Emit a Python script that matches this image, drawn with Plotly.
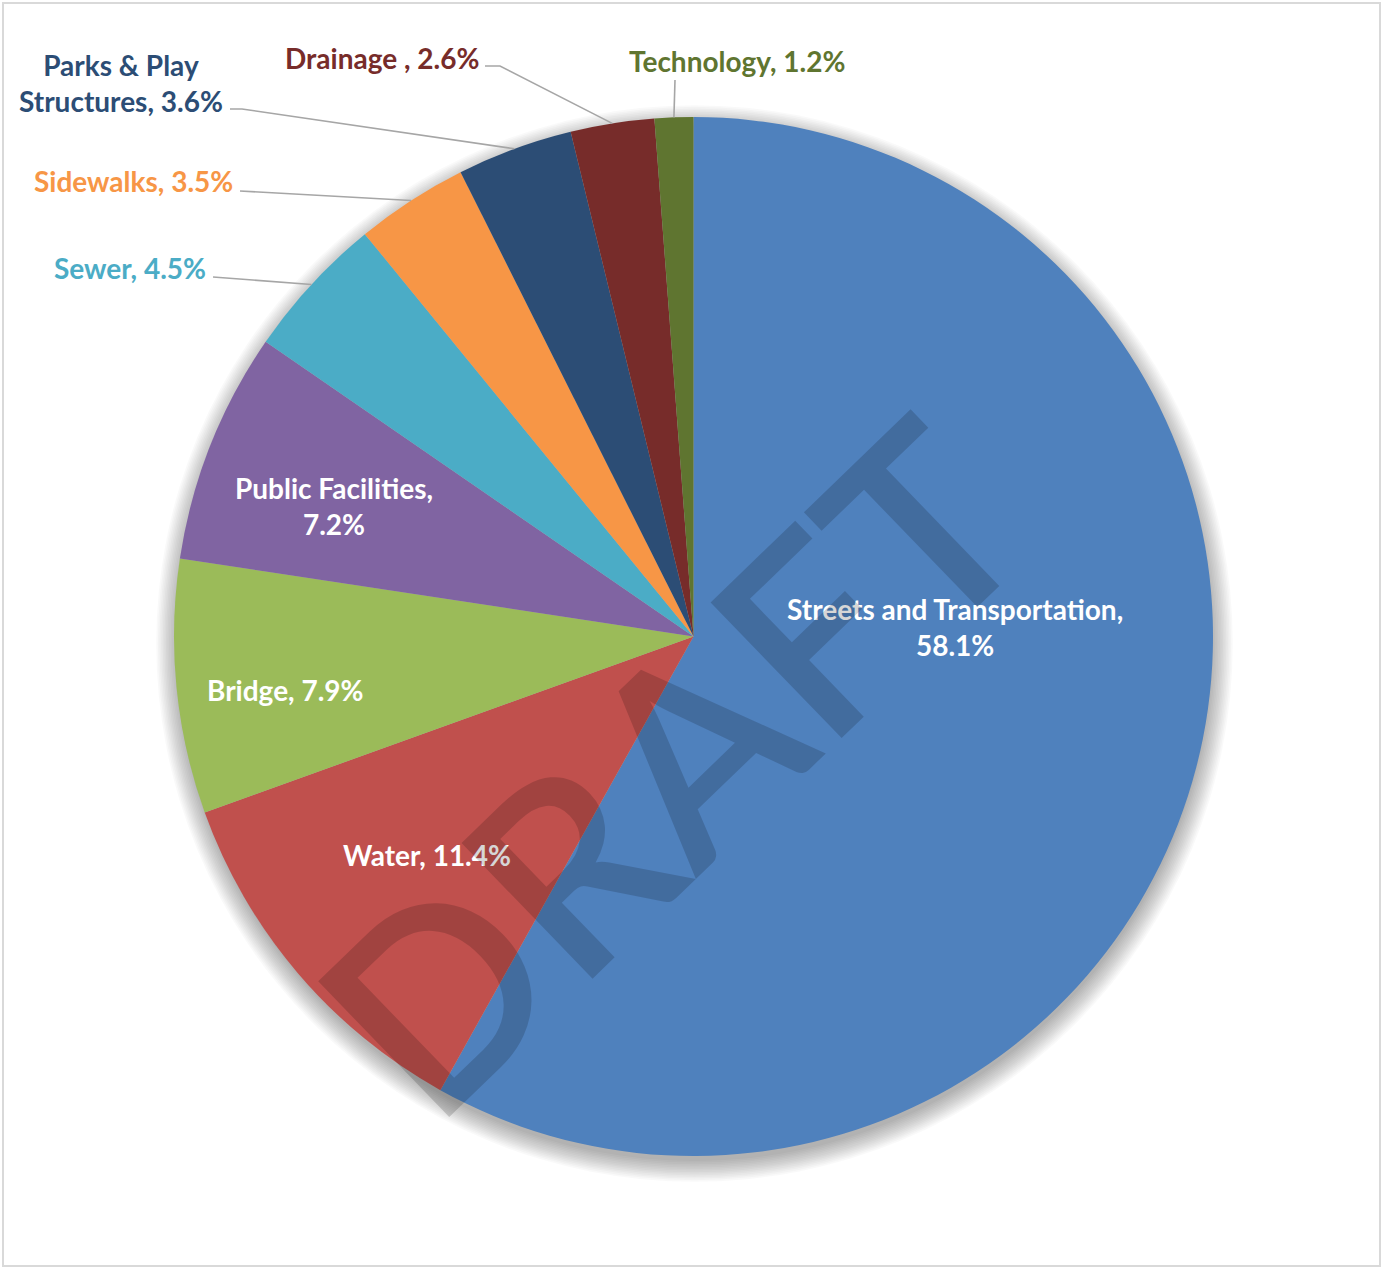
import numpy as np
import plotly.graph_objects as go

# ---------------- data ----------------
categories = ["Streets and Transportation", "Water", "Bridge", "Public Facilities",
              "Sewer", "Sidewalks", "Parks & Play Structures", "Drainage", "Technology"]
values = [58.1, 11.4, 7.9, 7.2, 4.5, 3.5, 3.6, 2.6, 1.2]
colors = ["#4F81BD", "#C0504D", "#9BBB59", "#8064A2", "#4BACC6",
          "#F79646", "#2C4D75", "#772C2A", "#5F7530"]
label_texts = ["Streets and Transportation,<br>58.1%", "Water, 11.4%", "Bridge, 7.9%",
               "Public Facilities,<br>7.2%", "Sewer, 4.5%", "Sidewalks, 3.5%",
               "Parks & Play<br>Structures, 3.6%", "Drainage , 2.6%", "Technology, 1.2%"]

# ---------------- layout helpers ----------------
W, H = 1382, 1268
CX, CY, R = 693.5, 636.5, 519.5


def px(x):
    return x / W


def py(y):
    return 1 - y / H


fig = go.Figure()
fig.add_trace(go.Pie(
    labels=categories, values=values, sort=False, direction="clockwise", rotation=0,
    marker=dict(colors=colors, line=dict(width=0)),
    textinfo="none", showlegend=False,
    domain=dict(x=[px(CX - R), px(CX + R)], y=[py(CY + R), py(CY - R)]),
))

shapes = []
# soft shadow behind the pie (offset downward)
for k in range(14):
    rr = R - 2 + k * 1.6
    cy = CY + 7
    shapes.append(dict(type="circle", xref="paper", yref="paper", layer="below",
                       x0=px(CX + 1 - rr), x1=px(CX + 1 + rr), y0=py(cy + rr), y1=py(cy - rr),
                       fillcolor="rgba(0,0,0,0.022)", line=dict(width=0)))

# outer border
shapes.append(dict(type="rect", xref="paper", yref="paper", layer="above",
                   x0=px(3), x1=px(1380), y0=py(1266), y1=py(3),
                   line=dict(color="#D9D9D9", width=2), fillcolor="rgba(0,0,0,0)"))

# label placement (pixel positions of label centres), leader line start/elbow
inside = {
    "Streets and Transportation": (955, 627),
    "Water": (427, 855),
    "Bridge": (285, 690),
    "Public Facilities": (334, 506),
}
outside = {
    "Sewer": ((130, 268), [(213, 277)]),
    "Sidewalks": ((133, 181), [(240, 191)]),
    "Parks & Play Structures": ((121, 83), [(230, 109), (242, 109)]),
    "Drainage": ((382, 58), [(485, 66), (500, 66)]),
    "Technology": ((737, 61), [(675, 80)]),
}

total = sum(values)
cum = np.cumsum([0] + values[:-1])
annotations = []
for cat, v, c0, col, txt in zip(categories, values, cum, colors, label_texts):
    theta = 2 * np.pi * (c0 + v / 2) / total
    ex, ey = CX + R * np.sin(theta), CY - R * np.cos(theta)
    if cat in inside:
        x, y = inside[cat]
        annotations.append(dict(x=px(x), y=py(y), xref="paper", yref="paper",
                                text="<b>" + txt + "</b>", showarrow=False,
                                font=dict(family="Lato", size=28, color="white"),
                                xanchor="center", yanchor="middle"))
    else:
        (x, y), pts = outside[cat]
        annotations.append(dict(x=px(x), y=py(y), xref="paper", yref="paper",
                                text="<b>" + txt + "</b>", showarrow=False,
                                font=dict(family="Lato", size=28, color=col),
                                xanchor="center", yanchor="middle"))
        path = "M " + " L ".join(f"{px(a)},{py(b)}" for a, b in pts + [(ex, ey)])
        shapes.append(dict(type="path", xref="paper", yref="paper", path=path,
                           line=dict(color="#A6A6A6", width=1.6)))

# watermark
annotations.append(dict(x=px(668), y=py(764), xref="paper", yref="paper",
                        text="DRAFT", showarrow=False, textangle=-44,
                        font=dict(family="Lato", size=262, weight=600,
                                  color="rgba(0,0,0,0.16)"),
                        xanchor="center", yanchor="middle"))

fig.update_layout(
    width=W, height=H, margin=dict(l=0, r=0, t=0, b=0),
    paper_bgcolor="white", plot_bgcolor="white",
    shapes=shapes, annotations=annotations, showlegend=False,
)
fig.write_html("out.html")
